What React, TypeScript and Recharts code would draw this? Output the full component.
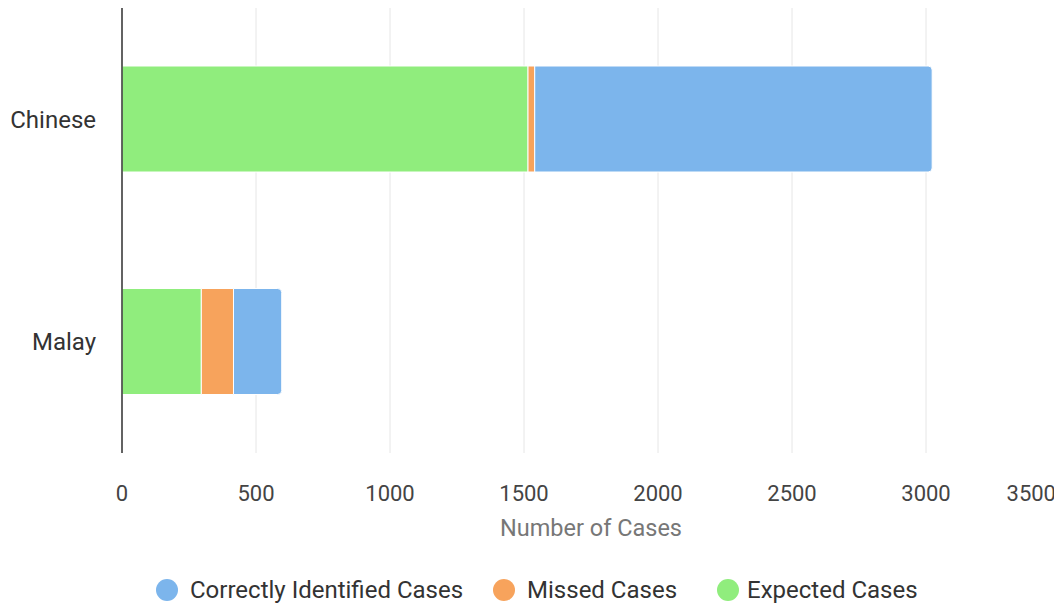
import React from "react";
import { BarChart, Bar, XAxis, YAxis, CartesianGrid, Legend } from "recharts";

const categories = ["Chinese", "Malay"];
const expectedCases = [1515, 296];
const missedCases = [25, 120];
const correctCases = [1483, 180];
const xTicks = [0, 500, 1000, 1500, 2000, 2500, 3000, 3500];

const seriesInfo = [
  { key: "correct", name: "Correctly Identified Cases", color: "#7cb5ec" },
  { key: "missed", name: "Missed Cases", color: "#f7a35c" },
  { key: "expected", name: "Expected Cases", color: "#90ed7d" },
];

const data = categories.map((c, i) => ({
  name: c,
  expected: expectedCases[i],
  missed: missedCases[i],
  correct: correctCases[i],
}));

if (typeof document !== "undefined") {
  document.documentElement.style.overflow = "hidden";
  document.body.style.margin = "0";
  document.body.style.overflow = "hidden";
}

const FONT = "Roboto, 'Liberation Sans', Arial, sans-serif";

const itemGapBefore = [0, 30, 40];
const textGap = [12, 12, 8];

const LegendContent = () => (
  <div
    style={{
      height: 30,
      display: "flex",
      alignItems: "center",
      paddingLeft: 156,
      fontFamily: FONT,
      fontSize: 24,
      color: "#333",
      whiteSpace: "nowrap",
    }}
  >
    {seriesInfo.map((s, i) => (
      <div key={s.key} style={{ display: "flex", alignItems: "center", marginLeft: itemGapBefore[i] }}>
        <span
          style={{
            display: "inline-block",
            width: 22,
            height: 22,
            borderRadius: 11,
            background: s.color,
            marginRight: textGap[i],
          }}
        />
        <span>{s.name}</span>
      </div>
    ))}
  </div>
);

const XTick = (props: any) => {
  const { x, y, payload, index } = props;
  const isLast = index === xTicks.length - 1;
  return (
    <text
      x={x}
      y={y}
      dy="0.71em"
      dx={isLast ? -4 : 0}
      textAnchor={isLast ? "end" : "middle"}
      fill="#444"
      fontSize={22}
      fontFamily={FONT}
    >
      {payload.value}
    </text>
  );
};

export default function App() {
  return (
    <div style={{ width: 1054, height: 605, overflow: "hidden", background: "#fff", position: "relative" }}>
      <BarChart
        width={1080}
        height={605}
        data={data}
        layout="vertical"
        margin={{ top: 8, right: 20, bottom: 0, left: 0 }}
        barCategoryGap="26%"
      >
        <CartesianGrid horizontal={false} stroke="#e6e6e6" />
        <XAxis
          type="number"
          domain={[0, 3500]}
          ticks={xTicks}
          axisLine={false}
          tickLine={false}
          tickSize={0}
          tickMargin={32}
          height={122}
          interval={0}
          tick={<XTick />}
          label={{
            value: "Number of Cases",
            position: "insideTop",
            offset: 66,
            fill: "#777",
            fontSize: 23.5,
            fontFamily: FONT,
          }}
        />
        <YAxis
          type="category"
          dataKey="name"
          width={122}
          axisLine={{ stroke: "#333", strokeWidth: 1.5 }}
          tickLine={false}
          tickSize={0}
          tickMargin={26}
          tick={{ fill: "#333", fontSize: 24, fontFamily: FONT }}
        />
        <Legend verticalAlign="bottom" height={30} content={<LegendContent />} />
        <Bar dataKey="expected" name="Expected Cases" stackId="a" fill="#90ed7d" stroke="#fff" strokeWidth={1} barSize={106} isAnimationActive={false} />
        <Bar dataKey="missed" name="Missed Cases" stackId="a" fill="#f7a35c" stroke="#fff" strokeWidth={1} barSize={106} isAnimationActive={false} />
        <Bar dataKey="correct" name="Correctly Identified Cases" stackId="a" fill="#7cb5ec" stroke="#fff" strokeWidth={1} barSize={106} radius={[0, 4, 4, 0]} isAnimationActive={false} />
      </BarChart>
    </div>
  );
}
